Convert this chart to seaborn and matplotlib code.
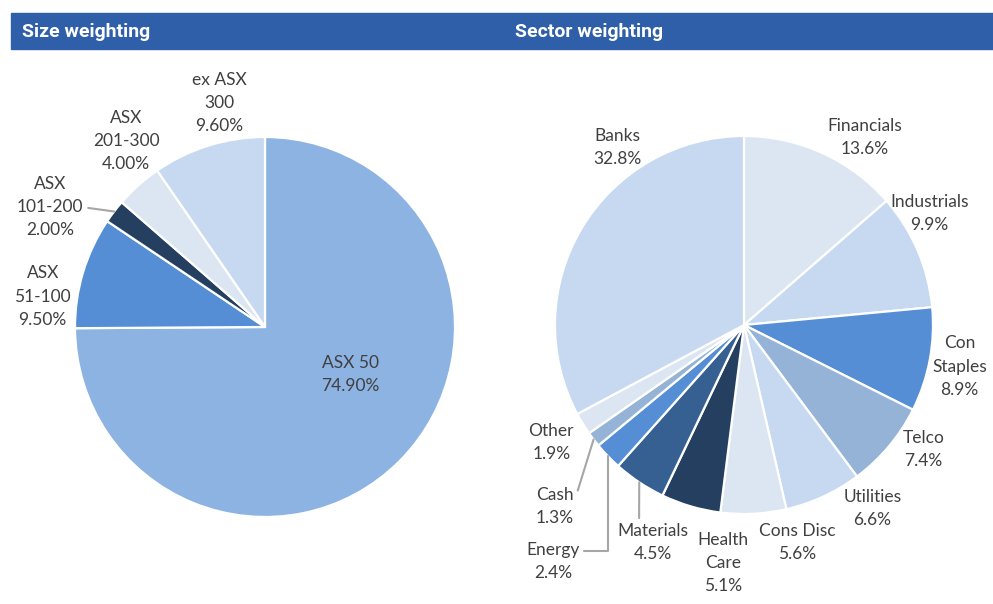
#!/usr/bin/env python3
# -*- coding: utf-8 -*-

"""
Size and sector weighting pies.
"""

import numpy as np
import matplotlib
matplotlib.use('Agg')
import matplotlib.pyplot as plt
from matplotlib.patches import Rectangle
import seaborn as sns

# size weighting
size_names = ['ASX 50', 'ASX\n51-100', 'ASX\n101-200', 'ASX\n201-300', 'ex ASX\n300']
size_values = [74.9, 9.5, 2.0, 4.0, 9.6]

# sector weighting (clockwise from 12 o'clock)
sector_names = ['Financials', 'Industrials', 'Con\nStaples', 'Telco', 'Utilities',
                'Cons Disc', 'Health\nCare', 'Materials', 'Energy', 'Cash', 'Other', 'Banks']
sector_values = [13.6, 9.9, 8.9, 7.4, 6.6, 5.6, 5.1, 4.5, 2.4, 1.3, 1.9, 32.8]

size_colors = ['#8db3e2', '#558ed5', '#243f60', '#dce6f2', '#c6d9f1']
sector_colors = ['#dce6f2', '#c6d9f1', '#558ed5', '#95b3d7', '#c6d9f1', '#dce6f2',
                 '#243f60', '#376092', '#558ed5', '#95b3d7', '#dce6f2', '#c6d9f1']

# label placement in pie-radius units
size_label_pos = [(0.45, -0.25), (-1.17, 0.16), (-1.13, 0.63), (-0.73, 0.98), (-0.24, 1.18)]
sector_label_pos = [(0.64, 0.99), (0.98, 0.59), (1.14, -0.22), (0.95, -0.66), (0.68, -0.97),
                    (0.28, -1.15), (-0.11, -1.26), (-0.48, -1.15), (-1.01, -1.25),
                    (-1.0, -0.96), (-1.02, -0.62), (-0.67, 0.94)]

# leader lines: index -> (relpos on text box, connection style)
size_leaders = {2: ((1.0, 0.5), 'arc3')}
sector_leaders = {7: ((0.3, 1.0), 'arc3'),
                  8: ((1.0, 0.75), 'angle,angleA=0,angleB=90,rad=0'),
                  9: ((1.0, 0.6), 'arc3')}

TEXT_COLOR = '#404040'
LEADER_COLOR = '#a6a6a6'
HEADER_COLOR = '#2e5fa8'
FS = 12.5
LS = 1.55

sns.set_theme(style='white')
plt.rcParams['font.family'] = ['Lato', 'DejaVu Sans']

W, H = 993, 604
fig = plt.figure(figsize=(W / 100, H / 100), dpi=100)


def pie_axes(cx, cy, r):
    """Square axes spanning the pie, given pixel centre and radius."""
    return fig.add_axes([(cx - r) / W, (H - cy - r) / H, 2 * r / W, 2 * r / H])


def draw_pie(ax, names, values, colors, fmt, label_pos, leaders):
    wedges, _ = ax.pie(values, colors=colors, startangle=90, counterclock=False,
                       wedgeprops=dict(edgecolor='white', linewidth=1.6))
    ax.set_xlim(-1, 1)
    ax.set_ylim(-1, 1)
    ax.set_aspect('auto')
    ax.axis('off')
    for i, (w, name, val) in enumerate(zip(wedges, names, values)):
        text = f'{name}\n{val:{fmt}}%'
        pos = label_pos[i]
        if i in leaders:
            relpos, style = leaders[i]
            mid = np.deg2rad((w.theta1 + w.theta2) / 2)
            edge = (np.cos(mid), np.sin(mid))
            ax.annotate(text, xy=edge, xytext=pos, ha='center', va='center',
                        fontsize=FS, color=TEXT_COLOR, linespacing=LS,
                        arrowprops=dict(arrowstyle='-', color=LEADER_COLOR, lw=1.5,
                                        connectionstyle=style, relpos=relpos,
                                        shrinkA=1, shrinkB=0))
        else:
            ax.text(pos[0], pos[1], text, ha='center', va='center', fontsize=FS,
                    color=TEXT_COLOR, linespacing=LS)


# header bar
fig.patches.append(Rectangle((11 / W, (H - 49) / H), 1 - 11 / W, 36 / H,
                             transform=fig.transFigure, color=HEADER_COLOR, zorder=0))
for x, title in [(22, 'Size weighting'), (515, 'Sector weighting')]:
    fig.text(x / W, (H - 32) / H, title, ha='left', va='center', color='white',
             fontsize=14, fontweight='bold', family=['Roboto', 'DejaVu Sans'])

ax1 = pie_axes(265, 327, 190)
draw_pie(ax1, size_names, size_values, size_colors, '.2f', size_label_pos, size_leaders)

ax2 = pie_axes(744, 325, 189)
draw_pie(ax2, sector_names, sector_values, sector_colors, '.1f', sector_label_pos, sector_leaders)

fig.savefig('out.png', dpi=100)
